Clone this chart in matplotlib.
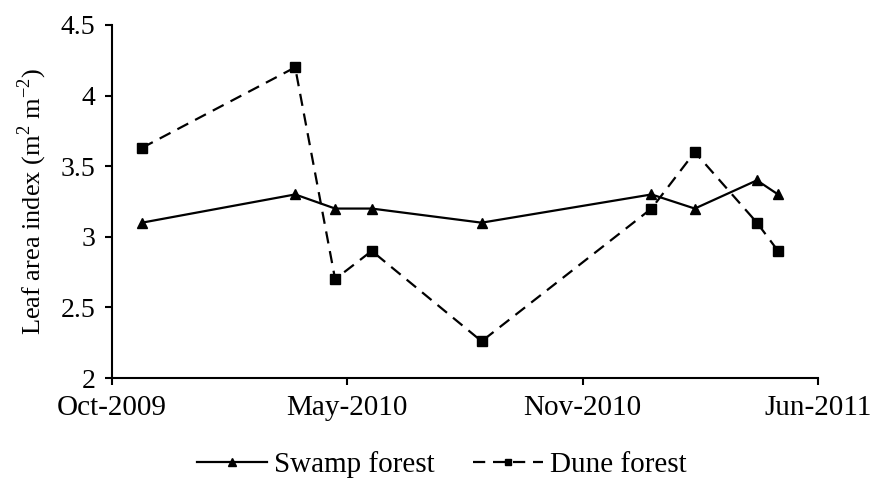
import matplotlib
matplotlib.use("Agg")
import matplotlib.pyplot as plt
import numpy as np
import datetime as dt

# sampling dates
dates = ["2009-10-28", "2010-03-15", "2010-04-20", "2010-05-23", "2010-08-30",
         "2011-01-30", "2011-03-10", "2011-05-05", "2011-05-24"]
swamp = [3.1, 3.3, 3.2, 3.2, 3.1, 3.3, 3.2, 3.4, 3.3]
dune = [3.63, 4.2, 2.7, 2.9, 2.26, 3.2, 3.6, 3.1, 2.9]
tick_labels = ["Oct-2009", "May-2010", "Nov-2010", "Jun-2011"]

plt.rcParams['font.family'] = ['Liberation Serif', 'DejaVu Serif']
plt.rcParams['mathtext.fontset'] = 'custom'
plt.rcParams['mathtext.rm'] = 'Liberation Serif'

x = [dt.datetime.strptime(d, "%Y-%m-%d") for d in dates]
start = dt.datetime(2009, 10, 1)
ticks = [start + dt.timedelta(days=212 * i) for i in range(4)]

fig = plt.figure(figsize=(8.72, 4.86), dpi=100)
ax = fig.add_axes([112/872, 108/486, 706/872, 353/486])

ax.plot(x, swamp, color="black", lw=1.6, marker="^", ms=7.5, label="Swamp forest")
ax.plot(x, dune, color="black", lw=1.6, ls=(0, (5.5, 3.5)), marker="s", ms=6.5,
        label="Dune forest")

ax.set_xlim(ticks[0], ticks[-1])
ax.set_ylim(2, 4.5)
ax.set_xticks(ticks)
ax.set_xticklabels(tick_labels)
ax.set_yticks(np.arange(2, 4.51, 0.5))
ax.set_yticklabels(["2", "2.5", "3", "3.5", "4", "4.5"])

for s in ["top", "right"]:
    ax.spines[s].set_visible(False)
for s in ["left", "bottom"]:
    ax.spines[s].set_linewidth(1.5)
ax.tick_params(axis="both", direction="out", length=5, width=1.5,
               colors="black", pad=7)
ax.tick_params(axis="x", labelsize=21)
ax.tick_params(axis="y", labelsize=20)

ax.set_ylabel(r"Leaf area index (m$^{2}$ m$^{-2}$)", fontsize=19, labelpad=8)

ax.legend(loc="center", bbox_to_anchor=(0.467, -0.246), ncol=2,
          frameon=False, fontsize=21, handlelength=2.4, columnspacing=1.3,
          handletextpad=0.25, markerscale=0.75)

fig.savefig("out.png", dpi=100)
